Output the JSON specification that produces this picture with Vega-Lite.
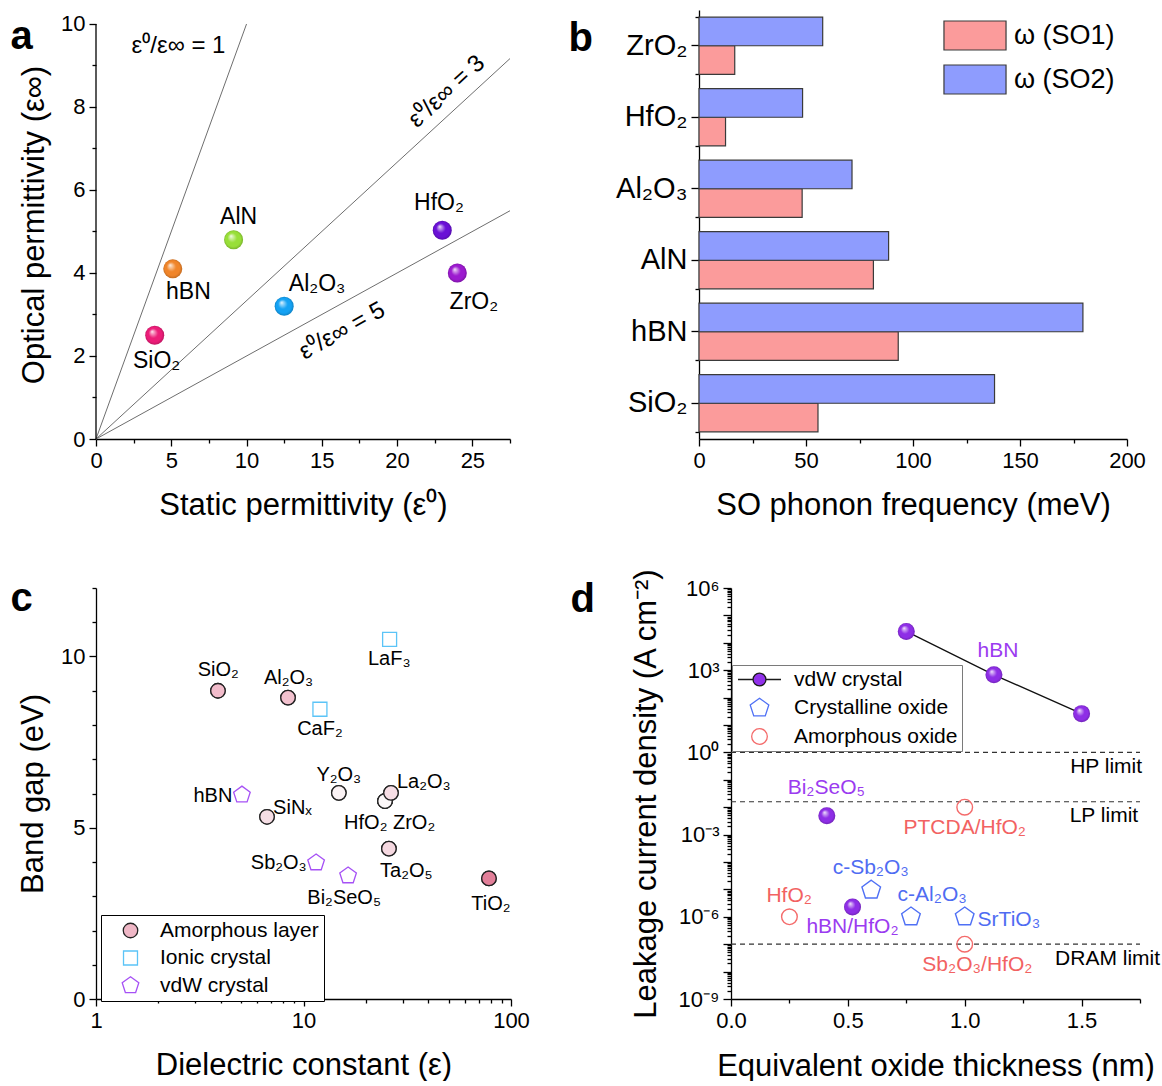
{
"$schema":"https://vega.github.io/schema/vega-lite/v6.json",
"padding":{"left":10,"top":10,"right":0,"bottom":0},
"columns":2,
"bounds":"flush",
"spacing":{"row":149,"column":188},
"resolve":{"scale":{"color":"independent","fill":"independent","stroke":"independent","shape":"independent"}},
"concat":[
 {"width":414,"height":429,
  "layer":[
   {"data":{"values":[{"ratio":"1","x0":0,"y0":0,"x1":10,"y1":10},{"ratio":"3","x0":0,"y0":0,"x1":27.5,"y1":9.1667},{"ratio":"5","x0":0,"y0":0,"x1":27.5,"y1":5.5}]},
    "mark":{"type":"rule","color":"#6e6e6e","strokeWidth":1},
    "encoding":{
     "x":{"field":"x0","type":"quantitative","scale":{"domain":[0,27.5],"nice":false,"zero":false},"axis":{"orient":"bottom","values":[0,5,10,15,20,25],"title":"Static permittivity (ε⁰)","titlePadding":19}},
     "y":{"field":"y0","type":"quantitative","scale":{"domain":[0,10.337],"nice":false},"axis":{"orient":"left","values":[0,2,4,6,8,10],"domain":false,"title":"Optical permittivity (ε∞)","titlePadding":10}},
     "x2":{"field":"x1"},"y2":{"field":"y1"}}},
   {"data":{"values":[{"x":0,"ya":0,"yb":10}]},
    "mark":{"type":"rule","color":"#000","strokeWidth":1.3},
    "encoding":{"x":{"field":"x","type":"quantitative","scale":{"domain":[0,27.5],"nice":false},"axis":null},"y":{"field":"ya","type":"quantitative","scale":{"domain":[0,10.337],"nice":false},"axis":null},"y2":{"field":"yb"}}},
   {"data":{"values":[{"label":"ε⁰/ε∞ = 1","x":5.48,"y":9.48}]},
    "mark":{"type":"text","fontSize":24},
    "encoding":{"x":{"field":"x","type":"quantitative","scale":{"domain":[0,27.5],"nice":false},"axis":null},"y":{"field":"y","type":"quantitative","scale":{"domain":[0,10.337],"nice":false},"axis":null},"text":{"field":"label"}}},
   {"data":{"values":[{"label":"ε⁰/ε∞ = 3","x":23.3,"y":8.37}]},
    "mark":{"type":"text","fontSize":24,"angle":317.4},
    "encoding":{"x":{"field":"x","type":"quantitative","scale":{"domain":[0,27.5],"nice":false},"axis":null},"y":{"field":"y","type":"quantitative","scale":{"domain":[0,10.337],"nice":false},"axis":null},"text":{"field":"label"}}},
   {"data":{"values":[{"label":"ε⁰/ε∞ = 5","x":16.35,"y":2.6}]},
    "mark":{"type":"text","fontSize":24,"angle":331.1},
    "encoding":{"x":{"field":"x","type":"quantitative","scale":{"domain":[0,27.5],"nice":false},"axis":null},"y":{"field":"y","type":"quantitative","scale":{"domain":[0,10.337],"nice":false},"axis":null},"text":{"field":"label"}}},
   {"data":{"values":[{"name":"SiO₂","eps0":3.9,"epsinf":2.5},{"name":"hBN","eps0":5.1,"epsinf":4.1},{"name":"AlN","eps0":9.14,"epsinf":4.8},{"name":"Al₂O₃","eps0":12.5,"epsinf":3.2},{"name":"HfO₂","eps0":23,"epsinf":5.03},{"name":"ZrO₂","eps0":24,"epsinf":4.0}]},
    "mark":{"type":"point","shape":"circle","filled":true,"size":361,"opacity":1,"strokeWidth":0},
    "encoding":{"x":{"field":"eps0","type":"quantitative","scale":{"domain":[0,27.5],"nice":false},"axis":null},"y":{"field":"epsinf","type":"quantitative","scale":{"domain":[0,10.337],"nice":false},"axis":null},
     "color":{"field":"name","type":"nominal","scale":{"domain":["SiO₂","hBN","AlN","Al₂O₃","HfO₂","ZrO₂"],"range":["#EC1C78","#F0852A","#98DF38","#14A2F4","#6A10D6","#9C1ACF"]},"legend":null}}},
   {"data":{"values":[{"name":"SiO₂","eps0":3.9,"epsinf":2.5},{"name":"hBN","eps0":5.1,"epsinf":4.1},{"name":"AlN","eps0":9.14,"epsinf":4.8},{"name":"Al₂O₃","eps0":12.5,"epsinf":3.2},{"name":"HfO₂","eps0":23,"epsinf":5.03},{"name":"ZrO₂","eps0":24,"epsinf":4.0}]},
    "mark":{"type":"point","shape":"circle","filled":true,"size":361,"opacity":1,"strokeWidth":0,
     "fill":{"gradient":"radial","x1":0.36,"y1":0.3,"r1":0,"x2":0.5,"y2":0.5,"r2":0.5,"stops":[{"offset":0,"color":"rgba(255,255,255,0.95)"},{"offset":0.15,"color":"rgba(255,255,255,0.6)"},{"offset":0.5,"color":"rgba(255,255,255,0)"},{"offset":0.8,"color":"rgba(0,0,0,0)"},{"offset":1,"color":"rgba(0,0,0,0.2)"}]}},
    "encoding":{"x":{"field":"eps0","type":"quantitative","scale":{"domain":[0,27.5],"nice":false},"axis":null},"y":{"field":"epsinf","type":"quantitative","scale":{"domain":[0,10.337],"nice":false},"axis":null}}},
   {"data":{"values":[{"label":"SiO₂","lx":4.03,"ly":1.89},{"label":"hBN","lx":6.14,"ly":3.54},{"label":"AlN","lx":9.47,"ly":5.35},{"label":"Al₂O₃","lx":14.69,"ly":3.73},{"label":"HfO₂","lx":22.78,"ly":5.69},{"label":"ZrO₂","lx":25.1,"ly":3.29}]},
    "mark":{"type":"text","fontSize":23},
    "encoding":{
     "x":{"field":"lx","type":"quantitative","scale":{"domain":[0,27.5],"nice":false},"axis":{"orient":"bottom","values":[2.5,7.5,12.5,17.5,22.5,27.5],"labels":false,"domain":false,"tickSize":4,"title":null}},
     "y":{"field":"ly","type":"quantitative","scale":{"domain":[0,10.337],"nice":false},"axis":{"orient":"left","values":[1,3,5,7,9],"labels":false,"domain":false,"tickSize":4,
       "title":"a","titleAngle":0,"titleX":-86,"titleY":38,"titleAlign":"left","titleBaseline":"alphabetic","titleFontSize":40,"titleFontWeight":"bold"}},
     "text":{"field":"label"}}}
  ],
  "resolve":{"axis":{"x":"independent","y":"independent"}}},
 {"width":428,"height":429,
  "data":{"values":[
   {"material":"ZrO₂","series":"ω (SO1)","value":16.7},{"material":"ZrO₂","series":"ω (SO2)","value":57.8},
   {"material":"HfO₂","series":"ω (SO1)","value":12.4},{"material":"HfO₂","series":"ω (SO2)","value":48.4},
   {"material":"Al₂O₃","series":"ω (SO1)","value":48.2},{"material":"Al₂O₃","series":"ω (SO2)","value":71.5},
   {"material":"AlN","series":"ω (SO1)","value":81.5},{"material":"AlN","series":"ω (SO2)","value":88.6},
   {"material":"hBN","series":"ω (SO1)","value":93.1},{"material":"hBN","series":"ω (SO2)","value":179.4},
   {"material":"SiO₂","series":"ω (SO1)","value":55.6},{"material":"SiO₂","series":"ω (SO2)","value":138.1}]},
  "layer":[
   {"mark":{"type":"bar","stroke":"#3a3a3a","strokeWidth":1.2,"opacity":1},
    "encoding":{
     "y":{"field":"material","type":"nominal","sort":["ZrO₂","HfO₂","Al₂O₃","AlN","hBN","SiO₂"],"scale":{"paddingInner":0.2,"paddingOuter":0.1},"axis":{"orient":"left","title":null,"labelFontSize":29,"tickSize":8}},
     "yOffset":{"field":"series","type":"nominal","sort":["ω (SO2)","ω (SO1)"]},
     "x":{"field":"value","type":"quantitative","scale":{"domain":[0,200],"nice":false},"axis":{"orient":"bottom","values":[0,50,100,150,200],"title":"SO phonon frequency (meV)","titlePadding":19}},
     "color":{"field":"series","type":"nominal","scale":{"domain":["ω (SO1)","ω (SO2)"],"range":["#FB9B9B","#8E9CFE"]},
      "legend":{"orient":"none","legendX":260.5,"legendY":10,"title":null,"symbolType":"M-2.14,-1H2.14V1H-2.14Z","symbolSize":841,"symbolStrokeColor":"#3a3a3a","symbolStrokeWidth":1.2,"symbolOpacity":1,"labelFontSize":27,"labelOffset":23.5,"rowPadding":9,"padding":0}}}},
   {"mark":{"type":"bar","opacity":0},
    "encoding":{
     "y":{"field":"material","type":"nominal","sort":["ZrO₂","HfO₂","Al₂O₃","AlN","hBN","SiO₂"],"axis":{"orient":"left","tickBand":"extent","labels":false,"domain":false,"tickSize":4,
       "title":"b","titleAngle":0,"titleX":-131,"titleY":40,"titleAlign":"left","titleBaseline":"alphabetic","titleFontSize":40,"titleFontWeight":"bold"}},
     "x":{"field":"value","type":"quantitative","scale":{"domain":[0,200],"nice":false},"axis":{"orient":"bottom","values":[25,75,125,175],"labels":false,"domain":false,"tickSize":4,"title":null}}}}
  ],
  "resolve":{"axis":{"x":"independent","y":"independent"}}},
 {"width":415,"height":411,
  "data":{"values":[
     {"name":"SiO₂","eps":3.87,"gap":9.0,"type":"Amorphous layer"},
     {"name":"Al₂O₃","eps":8.42,"gap":8.8,"type":"Amorphous layer"},
     {"name":"SiNₓ","eps":6.67,"gap":5.32,"type":"Amorphous layer"},
     {"name":"Y₂O₃","eps":14.8,"gap":6.02,"type":"Amorphous layer"},
     {"name":"HfO₂","eps":24.7,"gap":5.78,"type":"Amorphous layer"},
     {"name":"ZrO₂","eps":24.7,"gap":5.78,"type":"Amorphous layer"},
     {"name":"La₂O₃","eps":26.4,"gap":6.02,"type":"Amorphous layer"},
     {"name":"Ta₂O₅","eps":25.8,"gap":4.39,"type":"Amorphous layer"},
     {"name":"TiO₂","eps":78.3,"gap":3.52,"type":"Amorphous layer"},
     {"name":"CaF₂","eps":12.0,"gap":8.46,"type":"Ionic crystal"},
     {"name":"LaF₃","eps":26.0,"gap":10.5,"type":"Ionic crystal"},
     {"name":"hBN","eps":5.05,"gap":5.96,"type":"vdW crystal"},
     {"name":"Sb₂O₃","eps":11.5,"gap":3.98,"type":"vdW crystal"},
     {"name":"Bi₂SeO₅","eps":16.4,"gap":3.6,"type":"vdW crystal"}]},
  "layer":[
   {"mark":{"type":"point","size":305,"opacity":1,"strokeWidth":1.3},
    "encoding":{
     "x":{"field":"eps","type":"quantitative","scale":{"type":"log","domain":[1,100],"nice":false},"axis":{"orient":"bottom","values":[1,10,100],"format":"d","title":"Dielectric constant (ε)","titlePadding":19}},
     "y":{"field":"gap","type":"quantitative","scale":{"domain":[0,12],"nice":false},"axis":{"orient":"left","values":[0,5,10],"title":"Band gap (eV)","titlePadding":11}},
     "shape":{"field":"type","type":"nominal","scale":{"domain":["Amorphous layer","Ionic crystal","vdW crystal"],"range":["M0.83,0A0.83,0.83,0,1,1,-0.83,0A0.83,0.83,0,1,1,0.83,0Z","M-0.8,-0.8H0.8V0.8H-0.8Z","M0,-1L0.951,-0.309L0.588,0.809L-0.588,0.809L-0.951,-0.309Z"]},
      "legend":{"orient":"none","legendX":5,"legendY":327,"title":null,"strokeColor":"#000","fillColor":"#fff","padding":5,"symbolOffset":14,"labelOffset":19,"rowPadding":5.5,"labelFontSize":21,"labelLimit":300,"symbolSize":305,"symbolStrokeWidth":1.3}},
     "stroke":{"field":"type","type":"nominal","scale":{"domain":["Amorphous layer","Ionic crystal","vdW crystal"],"range":["#222222","#5BC4F7","#A651F5"]},
      "legend":{"orient":"none","legendX":5,"legendY":327,"title":null,"strokeColor":"#000","fillColor":"#fff","padding":5,"symbolOffset":14,"labelOffset":19,"rowPadding":5.5,"labelFontSize":21,"labelLimit":300,"symbolSize":305,"symbolStrokeWidth":1.3}},
     "fill":{"field":"type","type":"nominal","scale":{"domain":["Amorphous layer","Ionic crystal","vdW crystal"],"range":["#EFB7C6","rgba(255,255,255,0)","rgba(255,255,255,0)"]},
      "legend":{"orient":"none","legendX":5,"legendY":327,"title":null,"strokeColor":"#000","fillColor":"#fff","padding":5,"symbolOffset":14,"labelOffset":19,"rowPadding":5.5,"labelFontSize":21,"labelLimit":300,"symbolSize":305,"symbolStrokeWidth":1.3}}}},
   {"transform":[{"filter":"datum.type === 'Amorphous layer'"}],
    "mark":{"type":"point","filled":true,"size":305,"opacity":1,"strokeWidth":1.3,"stroke":"#222222","shape":"M0.83,0A0.83,0.83,0,1,1,-0.83,0A0.83,0.83,0,1,1,0.83,0Z"},
    "encoding":{
     "x":{"field":"eps","type":"quantitative","scale":{"type":"log","domain":[1,100],"nice":false},"axis":null},
     "y":{"field":"gap","type":"quantitative","scale":{"domain":[0,12],"nice":false},"axis":null},
     "color":{"field":"name","type":"nominal","scale":{"domain":["SiO₂","Al₂O₃","SiNₓ","Y₂O₃","HfO₂","ZrO₂","La₂O₃","Ta₂O₅","TiO₂"],"range":["#F2BCCB","#F2C1CE","#F6DEE5","#FBF3F5","#FCF8F9","#FCF8F9","#F7DEE5","#F5D8E0","#E27F99"]},"legend":null}}},
   {"data":{"values":[{"t":"SiO₂","lx":3.88,"ly":9.62},{"t":"Al₂O₃","lx":8.48,"ly":9.38},{"t":"CaF₂","lx":12.0,"ly":7.88},{"t":"LaF₃","lx":25.9,"ly":9.93},{"t":"Y₂O₃","lx":14.8,"ly":6.55},{"t":"La₂O₃","lx":38,"ly":6.35},{"t":"hBN","lx":3.66,"ly":5.94},{"t":"SiNₓ","lx":8.85,"ly":5.58},{"t":"HfO₂ ZrO₂","lx":26,"ly":5.15},{"t":"Ta₂O₅","lx":31.3,"ly":3.75},{"t":"Sb₂O₃","lx":7.6,"ly":3.98},{"t":"Bi₂SeO₅","lx":15.7,"ly":2.95},{"t":"TiO₂","lx":80,"ly":2.76}]},
    "mark":{"type":"text","fontSize":20},
    "encoding":{
     "x":{"field":"lx","type":"quantitative","scale":{"type":"log","domain":[1,100],"nice":false},"axis":{"orient":"bottom","values":[2,3,4,5,6,7,8,9,20,30,40,50,60,70,80,90],"labels":false,"domain":false,"tickSize":4,"title":null}},
     "y":{"field":"ly","type":"quantitative","scale":{"domain":[0,12],"nice":false},"axis":{"orient":"left","values":[1,2,3,4,6,7,8,9,11,12],"labels":false,"domain":false,"tickSize":4,
       "title":"c","titleAngle":0,"titleX":-86,"titleY":22,"titleAlign":"left","titleBaseline":"alphabetic","titleFontSize":40,"titleFontWeight":"bold"}},
     "text":{"field":"t"}}}
  ],
  "resolve":{"axis":{"x":"independent","y":"independent"}}},
 {"width":441,"height":411,
  "layer":[
   {"data":{"values":[{"limit":"HP","j":1},{"limit":"LP","j":0.0158},{"limit":"DRAM","j":1e-7}]},
    "mark":{"type":"rule","strokeDash":[5,4],"color":"#333333","strokeWidth":1.2},
    "encoding":{"x":{"datum":0,"type":"quantitative","scale":{"domain":[0,1.75],"range":[32,441],"nice":false},"axis":null},"x2":{"datum":1.75},
     "y":{"field":"j","type":"quantitative","scale":{"type":"log","domain":[1e-9,1e6],"nice":false},"axis":null}}},
   {"data":{"values":[{"t":"HP limit","lx":1.759,"ly":0.30},{"t":"LP limit","lx":1.742,"ly":0.0046},{"t":"DRAM limit","lx":1.836,"ly":3e-8}]},
    "mark":{"type":"text","align":"right","fontSize":21},
    "encoding":{"x":{"field":"lx","type":"quantitative","scale":{"domain":[0,1.75],"range":[32,441],"nice":false},"axis":null},"y":{"field":"ly","type":"quantitative","scale":{"type":"log","domain":[1e-9,1e6],"nice":false},"axis":null},"text":{"field":"t"}}},
   {"data":{"values":[{"x":0.75,"j":26000},{"x":1.125,"j":680},{"x":1.5,"j":26}]},
    "mark":{"type":"line","color":"#111111","strokeWidth":1.3},
    "encoding":{
     "x":{"field":"x","type":"quantitative","scale":{"domain":[0,1.75],"range":[32,441],"nice":false},"axis":{"orient":"bottom","values":[0,0.5,1,1.5],"format":".1f","title":"Equivalent oxide thickness (nm)","titlePadding":20}},
     "y":{"field":"j","type":"quantitative","scale":{"type":"log","domain":[1e-9,1e6],"nice":false},"axis":{"orient":"left","offset":-32,"values":[1e-9,1e-8,1e-7,1e-6,1e-5,1e-4,1e-3,1e-2,1e-1,1,10,100,1000,1e4,1e5,1e6],"tickSize":8,
       "labelExpr":"datum.value == 1e6 ? '10⁶' : datum.value == 1000 ? '10³' : datum.value == 1 ? '10⁰' : datum.value == 0.001 ? '10⁻³' : datum.value == 1e-6 ? '10⁻⁶' : datum.value == 1e-9 ? '10⁻⁹' : ''",
       "title":"Leakage current density (A cm⁻²)","titlePadding":16}}}},
   {"data":{"values":[{"name":"hBN","x":0.75,"j":26000},{"name":"hBN","x":1.125,"j":680},{"name":"hBN","x":1.5,"j":26},{"name":"Bi₂SeO₅","x":0.41,"j":0.0049},{"name":"hBN/HfO₂","x":0.52,"j":2.3e-6}]},
    "mark":{"type":"point","shape":"circle","filled":true,"size":289,"opacity":1,"strokeWidth":0,"color":"#8E2EE6"},
    "encoding":{"x":{"field":"x","type":"quantitative","scale":{"domain":[0,1.75],"range":[32,441],"nice":false},"axis":null},"y":{"field":"j","type":"quantitative","scale":{"type":"log","domain":[1e-9,1e6],"nice":false},"axis":null}}},
   {"data":{"values":[{"name":"hBN","x":0.75,"j":26000},{"name":"hBN","x":1.125,"j":680},{"name":"hBN","x":1.5,"j":26},{"name":"Bi₂SeO₅","x":0.41,"j":0.0049},{"name":"hBN/HfO₂","x":0.52,"j":2.3e-6}]},
    "mark":{"type":"point","shape":"circle","filled":true,"size":289,"opacity":1,"strokeWidth":0,
     "fill":{"gradient":"radial","x1":0.36,"y1":0.3,"r1":0,"x2":0.5,"y2":0.5,"r2":0.5,"stops":[{"offset":0,"color":"rgba(255,255,255,0.95)"},{"offset":0.15,"color":"rgba(255,255,255,0.6)"},{"offset":0.5,"color":"rgba(255,255,255,0)"},{"offset":0.8,"color":"rgba(0,0,0,0)"},{"offset":1,"color":"rgba(0,0,0,0.2)"}]}},
    "encoding":{"x":{"field":"x","type":"quantitative","scale":{"domain":[0,1.75],"range":[32,441],"nice":false},"axis":null},"y":{"field":"j","type":"quantitative","scale":{"type":"log","domain":[1e-9,1e6],"nice":false},"axis":null}}},
   {"data":{"values":[{"name":"c-Sb₂O₃","x":0.6,"j":9.5e-6,"type":"Crystalline oxide"},{"name":"c-Al₂O₃","x":0.77,"j":1e-6,"type":"Crystalline oxide"},{"name":"SrTiO₃","x":1.0,"j":1e-6,"type":"Crystalline oxide"},{"name":"HfO₂","x":0.25,"j":1e-6,"type":"Amorphous oxide"},{"name":"PTCDA/HfO₂","x":1.0,"j":0.01,"type":"Amorphous oxide"},{"name":"Sb₂O₃/HfO₂","x":1.0,"j":1e-7,"type":"Amorphous oxide"}]},
    "mark":{"type":"point","size":383,"opacity":1,"strokeWidth":1.4},
    "encoding":{
     "x":{"field":"x","type":"quantitative","scale":{"domain":[0,1.75],"range":[32,441],"nice":false},"axis":null},
     "y":{"field":"j","type":"quantitative","scale":{"type":"log","domain":[1e-9,1e6],"nice":false},"axis":null},
     "shape":{"field":"type","type":"nominal","scale":{"domain":["vdW crystal","Crystalline oxide","Amorphous oxide"],"range":["M-2.2,0L-0.66,0M0.66,0L2.2,0M0.66,0A0.66,0.66,0,1,1,-0.66,0A0.66,0.66,0,1,1,0.66,0Z","M0,-1L0.951,-0.309L0.588,0.809L-0.588,0.809L-0.951,-0.309Z","M0.8,0A0.8,0.8,0,1,1,-0.8,0A0.8,0.8,0,1,1,0.8,0Z"]},
      "legend":{"orient":"none","legendX":33,"legendY":77,"title":null,"strokeColor":"#7a7a7a","fillColor":"#fff","padding":4,"symbolOffset":13,"labelOffset":24,"rowPadding":5.5,"labelFontSize":21,"labelLimit":300,"symbolSize":383,"symbolStrokeWidth":1.3}},
     "stroke":{"field":"type","type":"nominal","scale":{"domain":["vdW crystal","Crystalline oxide","Amorphous oxide"],"range":["#1a1a1a","#4F70F5","#F46B6B"]},
      "legend":{"orient":"none","legendX":33,"legendY":77,"title":null,"strokeColor":"#7a7a7a","fillColor":"#fff","padding":4,"symbolOffset":13,"labelOffset":24,"rowPadding":5.5,"labelFontSize":21,"labelLimit":300,"symbolSize":383,"symbolStrokeWidth":1.3}},
     "fill":{"field":"type","type":"nominal","scale":{"domain":["vdW crystal","Crystalline oxide","Amorphous oxide"],"range":["#9131EA","rgba(255,255,255,0)","rgba(255,255,255,0)"]},
      "legend":{"orient":"none","legendX":33,"legendY":77,"title":null,"strokeColor":"#7a7a7a","fillColor":"#fff","padding":4,"symbolOffset":13,"labelOffset":24,"rowPadding":5.5,"labelFontSize":21,"labelLimit":300,"symbolSize":383,"symbolStrokeWidth":1.3}}}},
   {"data":{"values":[{"t":"hBN","lx":1.142,"ly":5100,"type":"vdW crystal"},{"t":"Bi₂SeO₅","lx":0.408,"ly":0.049,"type":"vdW crystal"},{"t":"hBN/HfO₂","lx":0.52,"ly":4.1e-7,"type":"vdW crystal"},{"t":"c-Sb₂O₃","lx":0.598,"ly":6.2e-5,"type":"Crystalline oxide"},{"t":"c-Al₂O₃","lx":0.861,"ly":6.2e-6,"type":"Crystalline oxide"},{"t":"SrTiO₃","lx":1.189,"ly":7.6e-7,"type":"Crystalline oxide"},{"t":"HfO₂","lx":0.249,"ly":5.75e-6,"type":"Amorphous oxide"},{"t":"PTCDA/HfO₂","lx":1.0,"ly":1.7e-3,"type":"Amorphous oxide"},{"t":"Sb₂O₃/HfO₂","lx":1.054,"ly":1.74e-8,"type":"Amorphous oxide"}]},
    "mark":{"type":"text","fontSize":21},
    "encoding":{
     "x":{"field":"lx","type":"quantitative","scale":{"domain":[0,1.75],"range":[32,441],"nice":false},"axis":{"orient":"bottom","values":[0.25,0.75,1.25,1.75],"labels":false,"domain":false,"tickSize":4,"title":null}},
     "y":{"field":"ly","type":"quantitative","scale":{"type":"log","domain":[1e-9,1e6],"nice":false},"axis":{"orient":"left","offset":-32,"labels":false,"domain":false,"tickSize":4,
       "title":"d","titleAngle":0,"titleX":-161,"titleY":23,"titleAlign":"left","titleBaseline":"alphabetic","titleFontSize":40,"titleFontWeight":"bold",
       "values":[2e-9,3e-9,4e-9,5e-9,6e-9,7e-9,8e-9,9e-9,2e-8,3e-8,4e-8,5e-8,6e-8,7e-8,8e-8,9e-8,2e-7,3e-7,4e-7,5e-7,6e-7,7e-7,8e-7,9e-7,2e-6,3e-6,4e-6,5e-6,6e-6,7e-6,8e-6,9e-6,2e-5,3e-5,4e-5,5e-5,6e-5,7e-5,8e-5,9e-5,2e-4,3e-4,4e-4,5e-4,6e-4,7e-4,8e-4,9e-4,0.002,0.003,0.004,0.005,0.006,0.007,0.008,0.009,0.02,0.03,0.04,0.05,0.06,0.07,0.08,0.09,0.2,0.3,0.4,0.5,0.6,0.7,0.8,0.9,2,3,4,5,6,7,8,9,20,30,40,50,60,70,80,90,200,300,400,500,600,700,800,900,2000,3000,4000,5000,6000,7000,8000,9000,20000,30000,40000,50000,60000,70000,80000,90000,200000,300000,400000,500000,600000,700000,800000,900000]}},
     "color":{"field":"type","type":"nominal","scale":{"domain":["vdW crystal","Crystalline oxide","Amorphous oxide"],"range":["#9B3BF0","#4F6CF2","#F26262"]},"legend":null},
     "text":{"field":"t"}}}
  ],
  "resolve":{"axis":{"x":"independent","y":"independent"}}}
],
"config":{
 "font":"Liberation Sans",
 "view":{"stroke":null},
 "axis":{"grid":false,"domainColor":"#000","tickColor":"#000","labelColor":"#000","titleColor":"#000","domainWidth":1.3,"tickWidth":1.3,"labelFontSize":22,"titleFontSize":31,"titleFontWeight":"normal","labelPadding":4,"tickSize":7,"labelFlush":false,"labelOverlap":false,"labelFont":"Liberation Sans","titleFont":"Liberation Sans"},
 "legend":{"labelFont":"Liberation Sans","labelColor":"#000"},
 "text":{"color":"#000","font":"Liberation Sans"}
}
}
